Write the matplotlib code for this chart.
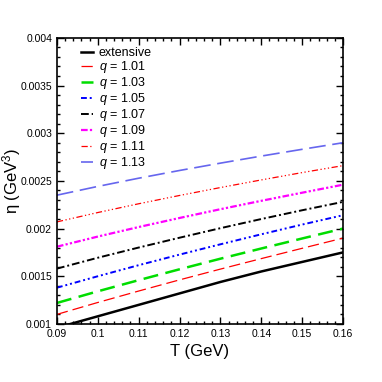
import matplotlib
matplotlib.use("Agg")
import matplotlib.pyplot as plt
from matplotlib.ticker import MultipleLocator, FormatStrFormatter

plt.rcParams['font.family'] = ['Liberation Sans', 'DejaVu Sans']
plt.rcParams['mathtext.fontset'] = 'custom'
plt.rcParams['mathtext.it'] = 'Liberation Sans:italic'
plt.rcParams['mathtext.rm'] = 'Liberation Sans'

# temperature grid (GeV)
T = [0.09, 0.10, 0.11, 0.12, 0.13, 0.14, 0.15, 0.16]

# eta (GeV^3)
eta_ext = [0.00096, 0.00108, 0.00120, 0.00132, 0.00144, 0.00155, 0.00165, 0.00175]
eta_101 = [0.00110, 0.001225, 0.001345, 0.001462, 0.001575, 0.001685, 0.001793, 0.00190]
eta_103 = [0.00122, 0.001342, 0.001459, 0.001573, 0.001684, 0.001791, 0.001896, 0.00200]
eta_105 = [0.00138, 0.001500, 0.001616, 0.001727, 0.001835, 0.001940, 0.002042, 0.00214]
eta_107 = [0.00158, 0.001694, 0.001801, 0.001904, 0.002004, 0.002100, 0.002192, 0.00228]
eta_109 = [0.00181, 0.001916, 0.002016, 0.002111, 0.002203, 0.002291, 0.002376, 0.00246]
eta_111 = [0.00207, 0.002168, 0.002260, 0.002347, 0.002430, 0.002510, 0.002587, 0.00266]
eta_113 = [0.00235, 0.002442, 0.002528, 0.002609, 0.002686, 0.002760, 0.002831, 0.00290]

labels = ['extensive', '$q$ = 1.01', '$q$ = 1.03', '$q$ = 1.05',
          '$q$ = 1.07', '$q$ = 1.09', '$q$ = 1.11', '$q$ = 1.13']

fig = plt.figure(figsize=(3.82, 3.82), dpi=100)
ax = fig.add_axes([0.149, 0.152, 0.749, 0.749])

ax.plot(T, eta_ext, color='black', lw=1.8, ls='-', label=labels[0])
ax.plot(T, eta_101, color='red', lw=0.9, ls=(0, (9, 4)), label=labels[1])
ax.plot(T, eta_103, color='#00dd00', lw=1.8, ls=(0, (6, 3)), label=labels[2])
ax.plot(T, eta_105, color='blue', lw=1.4, ls=(0, (3, 1.5, 1, 1.5, 1, 1.5)), label=labels[3])
ax.plot(T, eta_107, color='black', lw=1.4, ls=(0, (4, 1.5, 1, 1.5)), label=labels[4])
ax.plot(T, eta_109, color='magenta', lw=1.6, ls=(0, (3, 1, 1, 1, 1, 1)), label=labels[5])
ax.plot(T, eta_111, color='red', lw=0.9, ls=(0, (5, 2, 1, 2, 1, 2, 1, 2)), label=labels[6])
ax.plot(T, eta_113, color='#6666ee', lw=1.2, ls=(0, (10, 4)), label=labels[7])

ax.set_xlim(0.09, 0.16)
ax.set_ylim(0.001, 0.004)
ax.xaxis.set_major_locator(MultipleLocator(0.01))
ax.xaxis.set_minor_locator(MultipleLocator(0.002))
ax.yaxis.set_major_locator(MultipleLocator(0.0005))
ax.yaxis.set_minor_locator(MultipleLocator(0.0001))
ax.xaxis.set_major_formatter(FormatStrFormatter('%g'))
ax.yaxis.set_major_formatter(FormatStrFormatter('%g'))
ax.tick_params(which='both', direction='in', top=True, right=True, labelsize=7.5, width=1)
ax.tick_params(which='major', length=5)
ax.tick_params(which='minor', length=2.5)
for s in ax.spines.values():
    s.set_linewidth(1.2)

ax.set_xlabel('T (GeV)', fontsize=12, labelpad=4)
ax.set_ylabel('η (GeV$^3$)', fontsize=12)
ax.yaxis.set_label_coords(-0.118, 0.5)

ax.legend(loc='upper left', bbox_to_anchor=(0.05, 1.0), frameon=False, fontsize=9,
          handlelength=1.0, handletextpad=0.45, labelspacing=0.0, borderaxespad=0.35)

fig.savefig('out.png', dpi=100)
